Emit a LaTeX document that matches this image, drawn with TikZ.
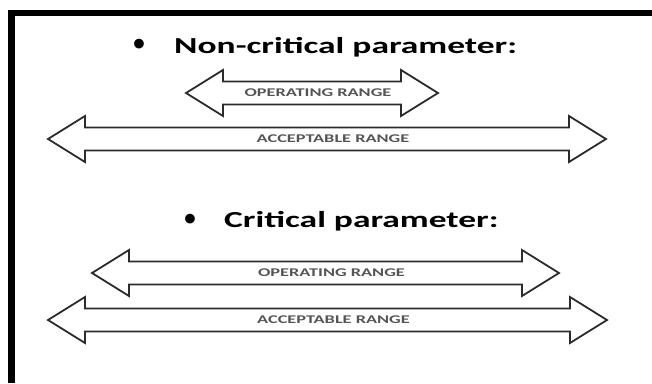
\documentclass[tikz,border=0pt]{standalone}
\usepackage{fontspec}
\usepackage{tikz}
\usetikzlibrary{positioning, calc}
\setmainfont{Carlito}[FakeStretch=1.55]
\newfontfamily\bulletfont{Carlito}
\definecolor{rgframe}{HTML}{000000}
\definecolor{rgoutline}{HTML}{2B2B2B}
\definecolor{rglabel}{HTML}{555555}

% range arrow: name, left tip, right tip, centre y, label
\newcommand{\rangearrow}[5]{%
  \node[rangelabel] (#1) at ({(#2+#3)/2+6},#4) {#5};
  \draw[rangeline] (#2,#4) -- ++(37,-23) -- ++(0,11.5) -- (#3-37,#4-11.5)
    -- ++(0,-11.5) -- (#3,#4) -- (#3-37,#4+23) -- ++(0,-11.5)
    -- (#2+37,#4+11.5) -- ++(0,11.5) -- cycle;
}

\begin{document}
\begin{tikzpicture}[x=1pt, y=-1pt,
    heading/.style={anchor=base west, inner sep=0pt, font=\bfseries\fontsize{22.9}{27}\selectfont},
    dot/.style={inner sep=0pt, font=\bulletfont\bfseries\fontsize{22.9}{27}\selectfont},
    rangelabel/.style={inner sep=0pt, text=rglabel, font=\bfseries\fontsize{11.8}{14}\selectfont},
    rangeline/.style={draw=rgoutline, line width=1.8pt, line join=miter}
]
\useasboundingbox (0,0) rectangle (652,383);

% frame
\fill[rgframe] (8,10) rectangle (652,16);
\fill[rgframe] (8,10) rectangle (15,383);

\node[dot] (dotA) at (139,45) {\textbullet};
\node[heading] (noncrit) at (174,53) {Non-critical parameter:};
\rangearrow{opA}{186}{438}{93}{OPERATING RANGE}
\rangearrow{accA}{48}{606}{139}{ACCEPTABLE RANGE}

\node[dot] (dotB) at (190,220) {\textbullet};
\node[heading] (crit) at (224,227) {Critical parameter:};
\rangearrow{opB}{92}{559}{273}{OPERATING RANGE}
\rangearrow{accB}{48}{607}{320}{ACCEPTABLE RANGE}

\end{tikzpicture}
\end{document}
